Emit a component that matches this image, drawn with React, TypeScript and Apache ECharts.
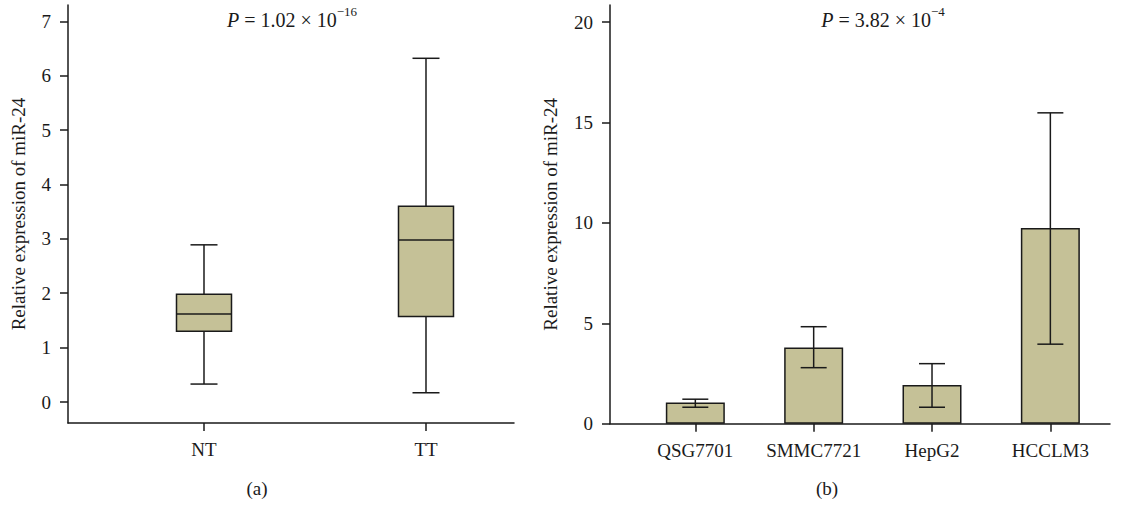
import React, { useEffect, useRef } from 'react';
import * as echarts from 'echarts';

// ---------- data ----------
const groupsA = ['NT', 'TT'];
// [lower whisker, Q1, median, Q3, upper whisker]
const boxNT = [0.33, 1.3, 1.62, 1.98, 2.89];
const boxTT = [0.17, 1.57, 2.98, 3.6, 6.32];
const ticksA = [0, 1, 2, 3, 4, 5, 6, 7];

const cellLines = ['QSG7701', 'SMMC7721', 'HepG2', 'HCCLM3'];
const meanB = [1.05, 3.79, 1.93, 9.74];
const errLowB = [0.82, 2.79, 0.82, 3.96];
const errHighB = [1.22, 4.83, 2.99, 15.48];
const ticksB = [0, 5, 10, 15, 20];

const pTextA = '{i|P} = 1.02 × 10{s|−16}';
const pTextB = '{i|P} = 3.82 × 10{s|−4}';
const yTitle = 'Relative expression of miR-24';

// ---------- styles ----------
const FONT = 'Liberation Serif';
const INK = '#1a1a1a';
const FILL = '#c5c197';
const FS = 19;

function lineSt() {
  return { stroke: INK, lineWidth: 1.5 };
}

function xAxisCfg(grid: number, min: number, max: number, names: string[]) {
  const vals = names.map((_, i) => i + 1);
  return {
    gridIndex: grid,
    type: 'value',
    min,
    max,
    splitLine: { show: false },
    axisLine: { show: true, onZero: false, lineStyle: { color: INK, width: 1.5 } },
    axisTick: { show: true, length: 8, customValues: vals, lineStyle: { color: INK, width: 1.5 } },
    axisLabel: {
      customValues: vals,
      formatter: (v: number) => names[Math.round(v) - 1] ?? '',
      margin: 17,
      fontSize: FS,
      color: INK,
      fontFamily: FONT,
    },
  };
}

function yAxisCfg(grid: number, min: number, max: number, ticks: number[], gap: number) {
  return {
    gridIndex: grid,
    type: 'value',
    min,
    max,
    splitLine: { show: false },
    name: yTitle,
    nameLocation: 'middle',
    nameGap: gap,
    nameTextStyle: { fontSize: FS, color: INK, fontFamily: FONT },
    axisLine: { show: true, onZero: false, lineStyle: { color: INK, width: 1.5 } },
    axisTick: { show: true, length: 8, customValues: ticks, lineStyle: { color: INK, width: 1.5 } },
    axisLabel: {
      customValues: ticks,
      margin: 17,
      fontSize: FS,
      color: INK,
      fontFamily: FONT,
    },
  };
}

function pText(x: number, text: string) {
  return {
    type: 'text',
    x,
    y: 20,
    style: {
      text,
      fontSize: 20,
      fontFamily: FONT,
      fill: INK,
      align: 'center',
      verticalAlign: 'middle',
      lineHeight: 30,
      rich: {
        i: { fontStyle: 'italic', fontSize: 20, fontFamily: FONT, fill: INK, lineHeight: 30 },
        s: { fontSize: 13, fontFamily: FONT, fill: INK, verticalAlign: 'top', lineHeight: 13 },
      },
    },
  };
}

function caption(x: number, text: string) {
  return {
    type: 'text',
    x,
    y: 488,
    style: { text, fontSize: FS, fontFamily: FONT, fill: INK, align: 'center', verticalAlign: 'middle' },
  };
}

export default function App() {
  const ref = useRef<HTMLDivElement>(null);

  useEffect(() => {
    if (!ref.current) return;
    const chart = echarts.init(ref.current, null, { renderer: 'svg' });

    const boxData = [
      [1, ...boxNT],
      [2, ...boxTT],
    ];
    const barData = cellLines.map((_, i) => [i + 1, meanB[i]]);
    const errData = cellLines.map((_, i) => [i + 1, errLowB[i], errHighB[i]]);

    const option: any = {
      animation: false,
      textStyle: { fontFamily: FONT },
      grid: [
        { left: 68, top: 5, width: 446, height: 418 },
        { left: 610, top: 5, width: 500, height: 418.7 },
      ],
      xAxis: [xAxisCfg(0, 0.3874, 2.3964, groupsA), xAxisCfg(1, 0.279, 4.504, cellLines)],
      yAxis: [yAxisCfg(0, -0.386, 7.3, ticksA, 40), yAxisCfg(1, 0, 20.85, ticksB, 50)],
      series: [
        {
          type: 'custom',
          xAxisIndex: 0,
          yAxisIndex: 0,
          data: boxData,
          encode: { x: 0, y: [1, 2, 3, 4, 5] },
          renderItem: (_p: any, api: any) => {
            const x = api.value(0);
            const lo = api.coord([x, api.value(1)]);
            const q1 = api.coord([x, api.value(2)]);
            const med = api.coord([x, api.value(3)]);
            const q3 = api.coord([x, api.value(4)]);
            const hi = api.coord([x, api.value(5)]);
            const cx = lo[0];
            const bw = 55;
            const cw = 27;
            return {
              type: 'group',
              children: [
                { type: 'line', shape: { x1: cx, y1: hi[1], x2: cx, y2: q3[1] }, style: lineSt() },
                { type: 'line', shape: { x1: cx, y1: q1[1], x2: cx, y2: lo[1] }, style: lineSt() },
                { type: 'line', shape: { x1: cx - cw / 2, y1: hi[1], x2: cx + cw / 2, y2: hi[1] }, style: lineSt() },
                { type: 'line', shape: { x1: cx - cw / 2, y1: lo[1], x2: cx + cw / 2, y2: lo[1] }, style: lineSt() },
                {
                  type: 'rect',
                  shape: { x: cx - bw / 2, y: q3[1], width: bw, height: q1[1] - q3[1] },
                  style: { fill: FILL, stroke: INK, lineWidth: 1.5 },
                },
                { type: 'line', shape: { x1: cx - bw / 2, y1: med[1], x2: cx + bw / 2, y2: med[1] }, style: lineSt() },
              ],
            };
          },
        },
        {
          type: 'bar',
          xAxisIndex: 1,
          yAxisIndex: 1,
          data: barData,
          barWidth: 59,
          itemStyle: { color: FILL, borderColor: INK, borderWidth: 1.5 },
          z: 2,
        },
        {
          type: 'custom',
          xAxisIndex: 1,
          yAxisIndex: 1,
          data: errData,
          encode: { x: 0, y: [1, 2] },
          z: 5,
          renderItem: (_p: any, api: any) => {
            const x = api.value(0);
            const lo = api.coord([x, api.value(1)]);
            const hi = api.coord([x, api.value(2)]);
            const cx = lo[0];
            const cw = 26;
            return {
              type: 'group',
              children: [
                { type: 'line', shape: { x1: cx, y1: hi[1], x2: cx, y2: lo[1] }, style: lineSt() },
                { type: 'line', shape: { x1: cx - cw / 2, y1: hi[1], x2: cx + cw / 2, y2: hi[1] }, style: lineSt() },
                { type: 'line', shape: { x1: cx - cw / 2, y1: lo[1], x2: cx + cw / 2, y2: lo[1] }, style: lineSt() },
              ],
            };
          },
        },
      ],
      graphic: [pText(292, pTextA), pText(883, pTextB), caption(257, '(a)'), caption(827, '(b)')],
    };

    chart.setOption(option);
    return () => chart.dispose();
  }, []);

  return (
    <div
      ref={ref}
      style={{ position: 'absolute', left: 0, top: 0, width: 1124, height: 505, background: '#fff' }}
    />
  );
}
